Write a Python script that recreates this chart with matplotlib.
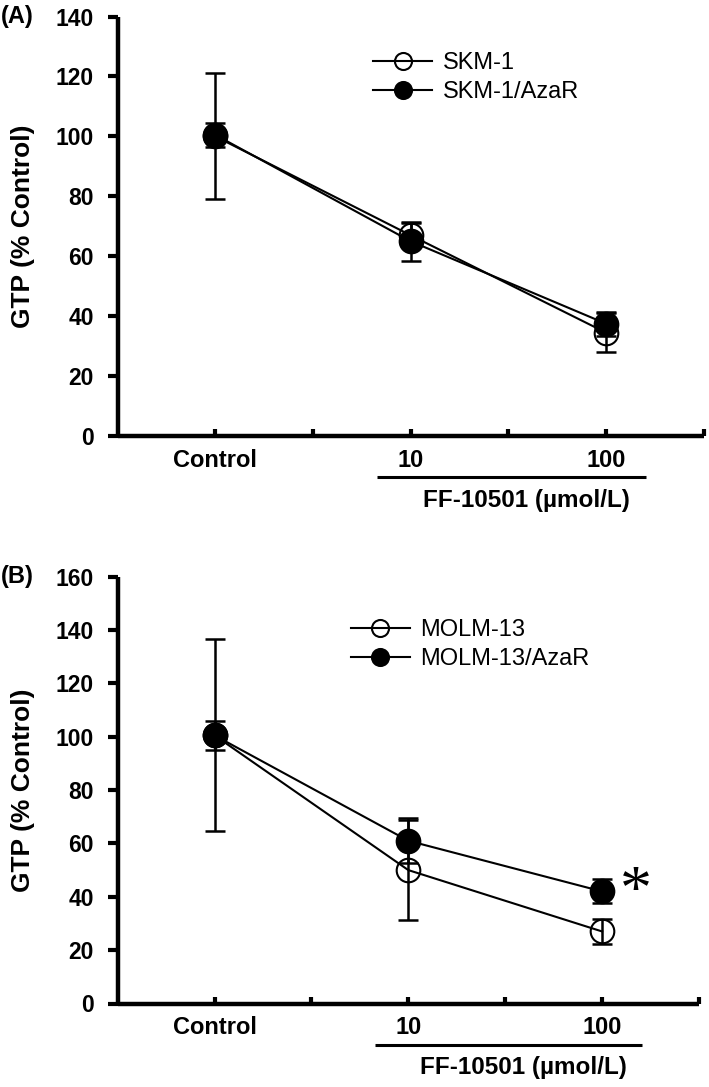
import numpy as np
import matplotlib as mpl
mpl.use('Agg')
import matplotlib.pyplot as plt

plt.rcParams['font.family'] = ['Liberation Sans', 'DejaVu Sans']

# x positions on the category axis
x_pos = [1, 3, 5]
x_labels = ['Control', '10', '100']
dose_label = 'FF-10501 (\u00b5mol/L)'

# panel A
skm_mean = [100, 67, 34.5]
skm_err = [21, 4, 6.5]
skm_aza_mean = [100.5, 65, 37.5]
skm_aza_err = [4, 6.5, 4]

# panel B
molm_mean = [100.5, 50, 27]
molm_err = [36, 18.7, 4.7]
molm_aza_mean = [100.5, 61, 42]
molm_aza_err = [5.5, 8.5, 4.5]

W, H = 709, 1087
fig = plt.figure(figsize=(W/100, H/100), dpi=100)

def make_axes(rect, ymax, label, series, names, leg_anchor, star=None):
    ax = fig.add_axes(rect)
    ax_h = rect[3]*H
    for (m, e, filled), name in zip(series, names):
        ax.errorbar(x_pos, m, yerr=e, fmt='none', ecolor='k', elinewidth=1.8,
                    capsize=7, capthick=1.8, zorder=2)
        ax.plot(x_pos, m, '-o', color='k', lw=1.5, markersize=17,
                markerfacecolor='k' if filled else 'none',
                markeredgecolor='k', markeredgewidth=1.5, label=name, zorder=3)
    ax.set_xlim(0, 6)
    ax.set_ylim(0, ymax)
    ax.set_yticks(np.arange(0, ymax + 1, 20))
    ax.set_xticks([1, 2, 3, 4, 5, 6])
    ax.set_xticklabels([x_labels[0], '', x_labels[1], '', x_labels[2], ''])
    for s in ['top', 'right']:
        ax.spines[s].set_visible(False)
    for s in ['left', 'bottom']:
        ax.spines[s].set_linewidth(3.2)
        ax.spines[s].set_capstyle('butt')
    ax.tick_params(axis='y', direction='out', length=7, width=3, pad=10, labelsize=16.5)
    ax.tick_params(axis='x', direction='in', length=5, width=3, pad=9, labelsize=17)
    for t in ax.get_xticklabels() + ax.get_yticklabels():
        t.set_fontweight('bold')
    ax.set_ylabel('GTP (% Control)', fontsize=19, fontweight='bold', labelpad=15)
    ax.text(-117/(rect[2]*W), 1.0, label, transform=ax.transAxes, fontsize=17,
            fontweight='bold', ha='left', va='center')
    # underline + dose label below the axis
    tr = ax.get_xaxis_transform()
    ax.plot([2.66, 5.41], [-41/ax_h, -41/ax_h], color='k', lw=2.2,
            transform=tr, clip_on=False, solid_capstyle='butt')
    ax.text(4.19, -64/ax_h, dose_label, transform=tr, fontsize=17.5,
            fontweight='bold', ha='center', va='center')
    ax.legend(loc='upper left', bbox_to_anchor=leg_anchor, frameon=False,
              fontsize=17, handlelength=2.5, handletextpad=0.45,
              labelspacing=0.3, borderpad=0, borderaxespad=0,
              markerscale=0.72)
    if star is not None:
        ax.text(star[0], star[1], '*', fontsize=46, ha='center', va='center',
                family='Liberation Serif')
    return ax

axA = make_axes([117.6/W, 1-436/H, 586/W, 419.5/H], 140, '(A)',
                [(skm_mean, skm_err, False), (skm_aza_mean, skm_aza_err, True)],
                ['SKM-1', 'SKM-1/AzaR'], (0.436, 0.915))
axB = make_axes([117.6/W, 1-1003.5/H, 581.4/W, 426.9/H], 160, '(B)',
                [(molm_mean, molm_err, False), (molm_aza_mean, molm_aza_err, True)],
                ['MOLM-13', 'MOLM-13/AzaR'], (0.401, 0.9), star=(5.35, 41))

fig.savefig('out.png', dpi=100)
